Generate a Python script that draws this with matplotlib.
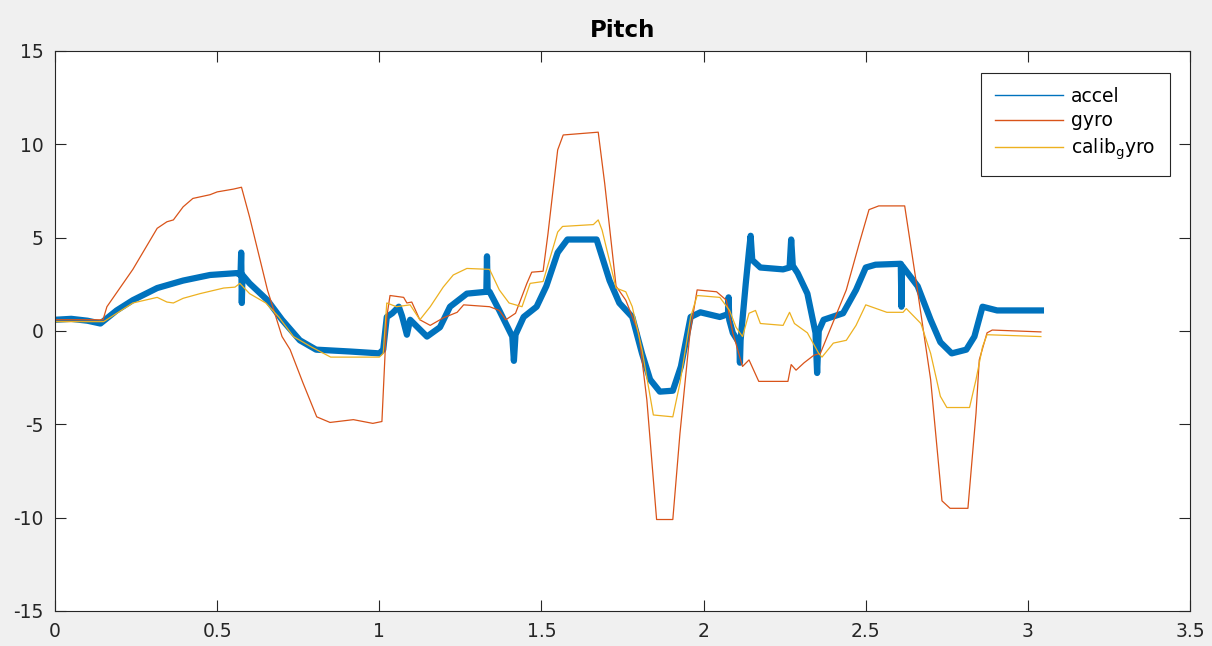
import numpy as np
import matplotlib
matplotlib.use('Agg')
import matplotlib.pyplot as plt

plt.rcParams['axes.unicode_minus'] = False

# values (time, pitch)
accel_t = [0.00, 0.05, 0.10, 0.14, 0.19, 0.24, 0.315, 0.395, 0.478, 0.56,
           0.572, 0.574, 0.576, 0.578, 0.60, 0.655, 0.70, 0.755, 0.805, 0.91,
           1.00, 1.012, 1.023, 1.04, 1.06, 1.07, 1.085, 1.095, 1.147, 1.187,
           1.218, 1.27, 1.33, 1.332, 1.334, 1.34, 1.37, 1.41, 1.415, 1.42,
           1.445, 1.485, 1.515, 1.55, 1.58, 1.67, 1.71, 1.74, 1.78, 1.81,
           1.835, 1.865, 1.905, 1.93, 1.96, 1.99, 2.05, 2.075, 2.077, 2.079,
           2.09, 2.11, 2.112, 2.114, 2.13, 2.14, 2.145, 2.15, 2.175, 2.245,
           2.265, 2.27, 2.275, 2.29, 2.32, 2.345, 2.35, 2.355, 2.37, 2.43,
           2.47, 2.50, 2.53, 2.608, 2.61, 2.612, 2.66, 2.70, 2.73, 2.765,
           2.81, 2.835, 2.86, 2.905, 3.04]
accel_v = [0.6, 0.65, 0.55, 0.4, 1.1, 1.65, 2.3, 2.7, 3.0, 3.1,
           3.0, 4.2, 1.5, 3.0, 2.55, 1.65, 0.6, -0.5, -1.0, -1.1,
           -1.2, -1.0, 0.75, 0.95, 1.3, 0.8, -0.2, 0.6, -0.3, 0.2,
           1.3, 2.0, 2.1, 4.0, 2.1, 2.1, 1.1, -0.3, -1.6, -0.2,
           0.75, 1.3, 2.4, 4.2, 4.9, 4.9, 2.7, 1.5, 0.75, -1.2,
           -2.6, -3.25, -3.2, -1.9, 0.75, 1.0, 0.75, 0.9, 1.8, 0.6,
           -0.1, -0.65, -1.7, -0.5, 2.55, 4.3, 5.1, 3.8, 3.4, 3.3,
           3.4, 4.9, 3.5, 3.1, 2.0, -0.1, -2.25, 0.0, 0.6, 0.95,
           2.2, 3.4, 3.55, 3.6, 1.3, 3.5, 2.4, 0.6, -0.6, -1.2,
           -1.0, -0.3, 1.3, 1.1, 1.1]

gyro_t = [0.00, 0.148, 0.16, 0.24, 0.315, 0.345, 0.365, 0.395, 0.425, 0.478,
          0.50, 0.55, 0.575, 0.60, 0.655, 0.70, 0.725, 0.765, 0.807, 0.848,
          0.92, 0.98, 1.008, 1.023, 1.033, 1.075, 1.085, 1.10, 1.125, 1.157,
          1.197, 1.24, 1.26, 1.34, 1.37, 1.39, 1.42, 1.455, 1.47, 1.505,
          1.52, 1.55, 1.567, 1.675, 1.695, 1.73, 1.76, 1.80, 1.825, 1.855,
          1.905, 1.927, 1.958, 1.98, 2.04, 2.07, 2.09, 2.12, 2.14, 2.17,
          2.26, 2.27, 2.285, 2.31, 2.34, 2.36, 2.44, 2.48, 2.51, 2.54,
          2.62, 2.655, 2.70, 2.735, 2.76, 2.815, 2.84, 2.85, 2.874, 2.89,
          3.04]
gyro_v = [0.6, 0.6, 1.3, 3.3, 5.5, 5.85, 5.95, 6.65, 7.1, 7.3,
          7.45, 7.6, 7.7, 6.1, 2.2, -0.3, -1.0, -2.8, -4.6, -4.9,
          -4.75, -4.95, -4.85, 0.75, 1.9, 1.8, 1.5, 1.55, 0.6, 0.3,
          0.7, 1.0, 1.4, 1.3, 1.1, 0.6, 0.95, 2.55, 3.15, 3.2,
          5.2, 9.7, 10.5, 10.65, 7.9, 2.4, 1.65, -0.1, -3.7, -10.1,
          -10.1, -5.5, -0.1, 2.2, 2.1, 1.65, -0.1, -1.9, -1.55, -2.7,
          -2.7, -1.8, -2.1, -1.7, -1.3, -1.2, 2.2, 4.7, 6.5, 6.7,
          6.7, 2.7, -2.6, -9.1, -9.5, -9.5, -4.4, -1.55, -0.1, 0.05,
          -0.05]

calib_t = [0.00, 0.15, 0.24, 0.315, 0.345, 0.365, 0.395, 0.447, 0.52, 0.555,
           0.57, 0.60, 0.65, 0.69, 0.735, 0.79, 0.85, 1.00, 1.012, 1.023,
           1.053, 1.095, 1.125, 1.157, 1.197, 1.228, 1.27, 1.34, 1.37, 1.40,
           1.44, 1.465, 1.505, 1.55, 1.565, 1.66, 1.675, 1.687, 1.73, 1.76,
           1.78, 1.81, 1.845, 1.905, 1.927, 1.96, 1.98, 2.05, 2.08, 2.10,
           2.12, 2.14, 2.16, 2.175, 2.245, 2.265, 2.28, 2.32, 2.355, 2.365,
           2.40, 2.44, 2.47, 2.50, 2.565, 2.615, 2.625, 2.67, 2.70, 2.73,
           2.75, 2.82, 2.84, 2.86, 2.874, 3.04]
calib_v = [0.5, 0.5, 1.5, 1.8, 1.55, 1.5, 1.75, 2.0, 2.3, 2.35,
           2.55, 2.0, 1.5, 0.75, -0.3, -0.85, -1.4, -1.4, -1.2, 1.5,
           1.3, 1.4, 0.6, 1.3, 2.35, 3.0, 3.35, 3.3, 2.2, 1.5,
           1.3, 2.55, 2.65, 5.3, 5.6, 5.7, 5.95, 5.4, 2.3, 2.1,
           1.3, -1.0, -4.5, -4.6, -2.8, 0.75, 1.9, 1.8, 1.1, 0.2,
           -0.3, 0.95, 1.1, 0.4, 0.3, 1.0, 0.4, -0.1, -1.2, -1.4,
           -0.65, -0.5, 0.3, 1.4, 1.0, 1.0, 1.2, 0.4, -1.2, -3.5,
           -4.1, -4.1, -2.6, -0.85, -0.2, -0.3]

xticks = [0, 0.5, 1, 1.5, 2, 2.5, 3, 3.5]
yticks = [-15, -10, -5, 0, 5, 10, 15]

fig = plt.figure(figsize=(12.12, 6.46), dpi=100, facecolor='#f0f0f0')
ax = fig.add_axes([0.0454, 0.0542, 0.9365, 0.8669])

ax.plot(accel_t, accel_v, color='#0072BD', lw=4.5, label='accel')
ax.plot(gyro_t, gyro_v, color='#D95319', lw=0.9, label='gyro')
ax.plot(calib_t, calib_v, color='#EDB120', lw=0.9, label=r'calib$_\mathregular{g}$yro')

ax.set_xlim(0, 3.5)
ax.set_ylim(-15, 15)
ax.set_xticks(xticks)
ax.set_xticklabels(['0', '0.5', '1', '1.5', '2', '2.5', '3', '3.5'])
ax.set_yticks(yticks)
ax.tick_params(direction='in', length=8, width=0.8, top=True, right=True,
               labelsize=13.5, labelcolor='#262626', color='#262626')
ax.tick_params(axis='x', pad=8)
ax.tick_params(axis='y', pad=8)
for s in ax.spines.values():
    s.set_color('#262626')
    s.set_linewidth(0.8)

ax.set_title('Pitch', fontsize=16.5, fontweight='bold', color='black', pad=10)

leg = ax.legend(loc='upper right', bbox_to_anchor=(0.982, 0.961), borderaxespad=0,
                fontsize=13.5, handlelength=3.6, fancybox=False, framealpha=1,
                edgecolor='#262626', labelspacing=0.3, handletextpad=0.45,
                borderpad=0.75)
leg.get_frame().set_linewidth(0.8)
for line in leg.get_lines():
    line.set_linewidth(1.0)

plt.savefig('out.png', dpi=100, facecolor=fig.get_facecolor())
